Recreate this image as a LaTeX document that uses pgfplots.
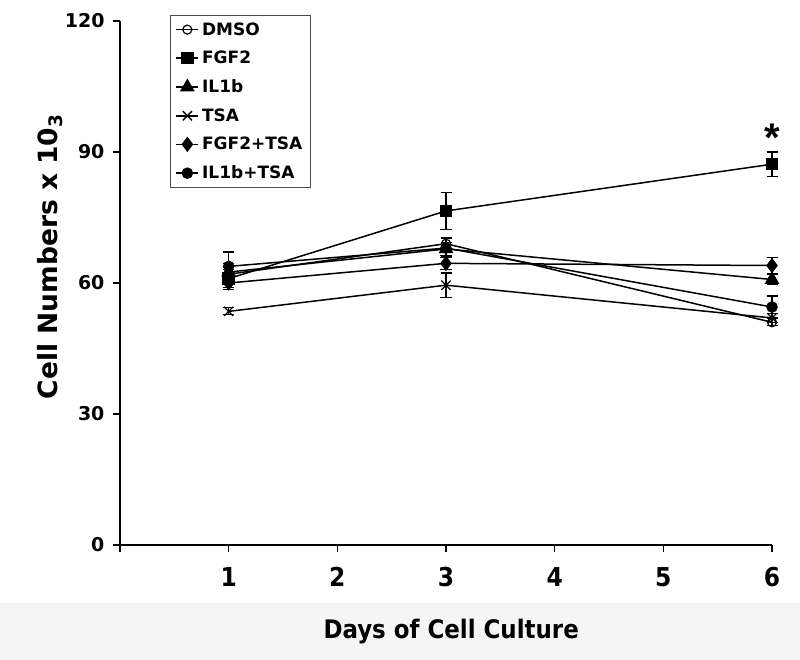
\documentclass[border=0pt]{standalone}
\usepackage{pgfplots}
\pgfplotsset{compat=1.18}
\usepackage{fontspec}
\setmainfont{DejaVu Sans}
\newfontfamily\condfont{DejaVu Sans Condensed}
\newfontfamily\libsans{Liberation Sans}
\definecolor{band}{RGB}{245,245,245}

\pgfplotsset{
  series/.style={black, line width=1.5pt,
    error bars/y dir=both, error bars/y explicit,
    error bars/error mark=|,
    error bars/error bar style={line width=1.2pt, solid},
    error bars/error mark options={line width=1.2pt, mark size=5.5pt, black}},
}

\begin{document}
\begin{tikzpicture}
\fill[band] (-120pt,-58pt) rectangle (680pt,-115pt);
\path[use as bounding box] (-120pt,-115pt) rectangle (680pt,545pt);
\begin{axis}[
  at={(0,0)}, anchor=south west,
  scale only axis, width=652pt, height=524pt,
  xmin=0, xmax=6, ymin=0, ymax=120,
  clip=false,
  axis lines=left,
  axis line style={-, line width=1.5pt},
  tick style={black, line width=1.5pt},
  major tick length=7pt,
  tick align=outside,
  xtick={0,1,2,3,4,5,6},
  xticklabels={{},1,2,3,4,5,6},
  ytick={0,30,60,90,120},
  /pgf/number format/assume math mode=true,
  xticklabel style={font=\condfont\bfseries\fontsize{26}{26}\selectfont, yshift=-12pt},
  yticklabel style={font=\bfseries\fontsize{19}{19}\selectfont, xshift=-5pt},
  xlabel={Days of Cell Culture},
  xlabel style={at={(axis description cs:0.508,0)}, anchor=center, yshift=-87pt,
    font=\condfont\bfseries\fontsize{25.5}{25.5}\selectfont},
  ylabel={Cell Numbers x 10\textsubscript{3}},
  ylabel style={at={(axis description cs:-0.107,0.55)}, anchor=center, rotate=0,
    font=\bfseries\fontsize{26.5}{26.5}\selectfont},
  legend style={at={(axis description cs:0.0767,1.0115)}, anchor=north west,
    draw=black!70, line width=1.2pt, fill=white,
    font=\bfseries\fontsize{17}{20}\selectfont, row sep=10.5pt, inner sep=5pt,
    nodes={inner xsep=3pt}},
  legend cell align=left,
  legend image code/.code={\draw[mark repeat=2, mark phase=2]
    plot coordinates {(0pt,0pt) (11pt,0pt) (22pt,0pt)};},
]
\addplot[series, mark=o, mark options={fill=white, line width=1.2pt, mark size=4.5pt}]
  coordinates {(1,62.0) +- (0,1.5) (3,69.0) +- (0,1.3) (6,51.0) +- (0,0.8)};
\addlegendentry{DMSO}
\addplot[series, mark=square*, mark options={mark size=5.5pt}]
  coordinates {(1,61.0) +- (0,2.0) (3,76.5) +- (0,4.2) (6,87.2) +- (0,2.8)};
\addlegendentry{FGF2}
\addplot[series, mark=triangle*, mark options={mark size=7pt}]
  coordinates {(1,62.5) +- (0,2.0) (3,67.8) +- (0,1.5) (6,60.8) +- (0,1.2)};
\addlegendentry{IL1b}
\addplot[series, mark=x, mark options={line width=1.3pt, mark size=6.5pt}]
  coordinates {(1,53.5) +- (0,0.8) (3,59.5) +- (0,2.8) (6,52.0) +- (0,1.0)};
\addlegendentry{TSA}
\addplot[series, mark=diamond*, mark options={mark size=6.5pt}]
  coordinates {(1,60.0) +- (0,1.5) (3,64.5) +- (0,1.5) (6,64.0) +- (0,1.8)};
\addlegendentry{FGF2+TSA}
\addplot[series, mark=*, mark options={mark size=5pt}]
  coordinates {(1,63.8) +- (0,3.3) (3,68.0) +- (0,2.2) (6,54.5) +- (0,2.5)};
\addlegendentry{IL1b+TSA}
\node[anchor=base, font=\libsans\bfseries\fontsize{40}{40}\selectfont] at (axis cs:6,90) {*};
\end{axis}
\end{tikzpicture}
\end{document}
